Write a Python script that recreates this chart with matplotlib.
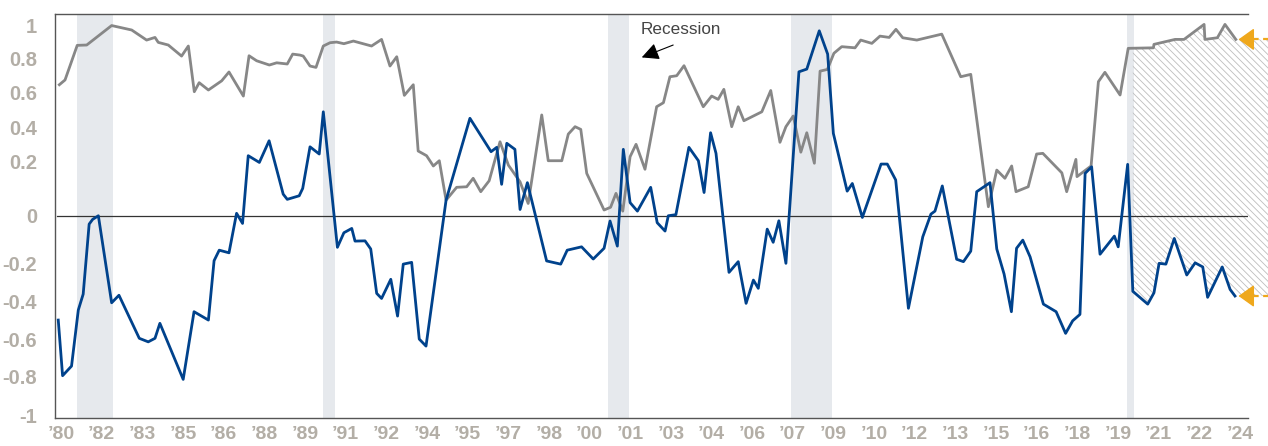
import numpy as np
import matplotlib.pyplot as plt

# gray series (upper line)
gray_year = [1979.94, 1980.15, 1980.60, 1980.95, 1981.87, 1982.61, 1983.16, 1983.47, 1983.59, 1983.96,
             1984.45, 1984.70, 1984.92, 1985.10, 1985.44, 1985.93, 1986.20, 1986.73, 1986.94, 1987.22,
             1987.69, 1987.96, 1988.35, 1988.55, 1988.82, 1988.94, 1989.19, 1989.41, 1989.68, 1989.93,
             1990.17, 1990.44, 1990.79, 1991.46, 1991.83, 1992.14, 1992.39, 1992.67, 1993.00, 1993.18,
             1993.49, 1993.74, 1993.96, 1994.21, 1994.60, 1994.97, 1995.21, 1995.49, 1995.80, 1996.20,
             1996.51, 1996.94, 1997.24, 1997.74, 1997.98, 1998.48, 1998.72, 1998.97, 1999.18, 1999.40,
             2000.04, 2000.28, 2000.48, 2000.73, 2001.00, 2001.22, 2001.55, 2001.98, 2002.23, 2002.47,
             2002.72, 2002.99, 2003.70, 2004.01, 2004.25, 2004.46, 2004.75, 2004.99, 2005.20, 2005.86,
             2006.19, 2006.53, 2006.75, 2007.02, 2007.30, 2007.52, 2007.80, 2008.01, 2008.28, 2008.52,
             2008.81, 2009.30, 2009.51, 2009.92, 2010.22, 2010.56, 2010.81, 2011.06, 2011.58, 2012.50,
             2013.20, 2013.57, 2014.22, 2014.53, 2014.83, 2015.08, 2015.24, 2015.69, 2016.00, 2016.23,
             2016.93, 2017.11, 2017.45, 2017.49, 2018.01, 2018.28, 2018.52, 2019.08, 2019.38, 2020.31,
             2020.33, 2021.11, 2021.44, 2022.18, 2022.21, 2022.67, 2022.95, 2023.35]
gray_val = [0.646, 0.674, 0.880, 0.882, 1.000, 0.973, 0.912, 0.928, 0.898, 0.882,
            0.815, 0.876, 0.605, 0.658, 0.615, 0.669, 0.721, 0.580, 0.817, 0.787,
            0.762, 0.775, 0.768, 0.827, 0.821, 0.815, 0.756, 0.748, 0.876, 0.896,
            0.900, 0.890, 0.906, 0.876, 0.916, 0.756, 0.811, 0.584, 0.646, 0.260,
            0.232, 0.182, 0.202, 0.057, 0.104, 0.106, 0.137, 0.088, 0.128, 0.315,
            0.185, 0.124, 0.045, 0.472, 0.202, 0.202, 0.361, 0.405, 0.389, 0.155,
            0.021, 0.031, 0.082, 0.017, 0.226, 0.300, 0.170, 0.519, 0.542, 0.693,
            0.699, 0.758, 0.519, 0.580, 0.561, 0.619, 0.405, 0.519, 0.439, 0.490,
            0.612, 0.312, 0.405, 0.466, 0.253, 0.369, 0.192, 0.726, 0.736, 0.832,
            0.872, 0.865, 0.912, 0.892, 0.936, 0.928, 0.977, 0.926, 0.912, 0.948,
            0.693, 0.707, 0.033, 0.167, 0.137, 0.182, 0.088, 0.106, 0.242, 0.246,
            0.157, 0.088, 0.210, 0.143, 0.182, 0.664, 0.719, 0.586, 0.862, 0.865,
            0.886, 0.916, 0.916, 1.007, 0.916, 0.926, 1.007, 0.916]

# blue series (lower line)
blue_year = [1979.90, 1980.06, 1980.39, 1980.64, 1980.82, 1981.04, 1981.17, 1981.38, 1981.87, 1982.14,
             1982.89, 1983.22, 1983.47, 1983.65, 1984.51, 1984.91, 1985.44, 1985.65, 1985.84, 1986.20,
             1986.48, 1986.70, 1986.91, 1987.32, 1987.68, 1988.20, 1988.35, 1988.79, 1988.92, 1989.19,
             1989.53, 1989.68, 1990.20, 1990.44, 1990.73, 1990.85, 1991.22, 1991.43, 1991.65, 1991.83,
             1992.17, 1992.42, 1992.63, 1992.94, 1993.22, 1993.47, 1994.21, 1995.09, 1995.87, 1996.08,
             1996.26, 1996.45, 1996.75, 1996.94, 1997.21, 1997.92, 1998.44, 1998.68, 1999.21, 1999.64,
             2000.04, 2000.26, 2000.53, 2000.75, 2001.00, 2001.27, 2001.76, 2002.00, 2002.29, 2002.41,
             2002.69, 2003.17, 2003.52, 2003.73, 2003.97, 2004.17, 2004.65, 2004.99, 2005.28, 2005.55,
             2005.73, 2006.06, 2006.28, 2006.49, 2006.75, 2007.23, 2007.52, 2007.98, 2008.29, 2008.50,
             2009.01, 2009.20, 2009.57, 2010.26, 2010.49, 2010.80, 2011.27, 2011.80, 2012.10, 2012.25,
             2012.52, 2013.05, 2013.30, 2013.57, 2013.79, 2014.28, 2014.53, 2014.80, 2015.07, 2015.26,
             2015.49, 2015.76, 2016.25, 2016.72, 2017.07, 2017.33, 2017.60, 2017.79, 2018.03, 2018.34,
             2018.87, 2019.01, 2019.36, 2019.55, 2020.10, 2020.33, 2020.52, 2020.77, 2021.08, 2021.54,
             2021.85, 2022.13, 2022.31, 2022.85, 2023.14, 2023.32]
blue_val = [-0.500, -0.798, -0.746, -0.447, -0.363, -0.035, -0.015, 0.000, -0.409, -0.369,
            -0.596, -0.615, -0.596, -0.517, -0.817, -0.456, -0.500, -0.188, -0.144, -0.155,
            0.009, -0.032, 0.232, 0.195, 0.321, 0.079, 0.060, 0.073, 0.100, 0.285,
            0.242, 0.490, -0.132, -0.071, -0.053, -0.106, -0.105, -0.139, -0.359, -0.386,
            -0.284, -0.479, -0.203, -0.195, -0.600, -0.638, 0.057, 0.453, 0.256, 0.282,
            0.115, 0.306, 0.270, 0.023, 0.121, -0.189, -0.203, -0.144, -0.130, -0.181,
            -0.136, -0.022, -0.127, 0.270, 0.048, 0.017, 0.104, -0.029, -0.064, 0.000,
            0.004, 0.282, 0.202, 0.085, 0.369, 0.246, -0.247, -0.192, -0.412, -0.288,
            -0.332, -0.056, -0.111, -0.021, -0.199, 0.722, 0.738, 0.968, 0.827, 0.365,
            0.090, 0.118, -0.007, 0.189, 0.189, 0.131, -0.438, -0.088, 0.006, 0.017,
            0.109, -0.182, -0.192, -0.148, 0.088, 0.121, -0.139, -0.256, -0.456, -0.136,
            -0.102, -0.172, -0.416, -0.456, -0.570, -0.504, -0.470, 0.155, 0.179, -0.161,
            -0.085, -0.130, 0.188, -0.348, -0.416, -0.356, -0.199, -0.203, -0.095, -0.261,
            -0.197, -0.218, -0.380, -0.218, -0.338, -0.373]

recessions = [(1980.60, 1981.91), (1989.67, 1990.10), (2000.18, 2000.96),
              (2006.94, 2008.44), (2019.35, 2019.59)]

xtick_labels = ["’80", "’82", "’83", "’85", "’86", "’88", "’89", "’91", "’92", "’94",
                "’95", "’97", "’98", "’00", "’01", "’03", "’04", "’06", "’07", "’09",
                "’10", "’12", "’13", "’15", "’16", "’18", "’19", "’21", "’22", "’24"]
ytick_vals = [-1, -0.8, -0.6, -0.4, -0.2, 0, 0.2, 0.4, 0.6, 0.8, 1]
ytick_labels = ["-1", "-0.8", "-0.6", "-0.4", "-0.2", "0", "0.2", "0.4", "0.6", "0.8", "1"]

# the original axis is unevenly spaced: map values to screen position piecewise
scale_vals = [-1.2, -1, -0.8, -0.6, -0.4, -0.2, 0, 0.2, 0.4, 0.6, 0.8, 1, 1.2]
scale_pos = [-8, 31, 70, 107, 145, 182.5, 230.3, 285, 318.5, 353.5, 387.5, 420.5, 453.5]


def fwd(v):
    return np.interp(v, scale_vals, scale_pos)


def inv(p):
    return np.interp(p, scale_pos, scale_vals)


label_font = ['Liberation Sans Narrow', 'Liberation Sans', 'DejaVu Sans']
label_color = '#b3aea6'
gray_color = '#878787'
blue_color = '#00428c'
orange = '#efa81c'

fig = plt.figure(figsize=(12.68, 4.46), dpi=100)
ax = fig.add_axes([55 / 1268, 28 / 446, 1193 / 1268, 404 / 446])
ax.set_yscale('function', functions=(fwd, inv))
ax.set_xlim(1979.78, 2023.80)
ax.set_ylim(-1.015, 1.07)

for start, end in recessions:
    ax.axvspan(start, end, color='#e6e9ed', lw=0, zorder=0)

# hatched zone after the last recession, running out past the right edge
x0 = blue_year[123]
x_out = 2024.6
g_tail = [(x, v) for x, v in zip(gray_year, gray_val) if x > x0]
b_tail = [(x, v) for x, v in zip(blue_year, blue_val) if x >= x0]
poly_x = [x0] + [p[0] for p in g_tail] + [x_out, x_out] + [p[0] for p in b_tail[::-1]]
poly_y = ([np.interp(x0, gray_year, gray_val)] + [p[1] for p in g_tail]
          + [gray_val[-1], blue_val[-1]] + [p[1] for p in b_tail[::-1]])
plt.rcParams['hatch.linewidth'] = 0.6
ax.fill(poly_x, poly_y, facecolor='none', edgecolor='#bdbdbd', hatch='\\\\\\\\\\',
        lw=0, clip_on=False, zorder=1)

ax.axhline(0, xmin=2 / 1193, color='#333333', lw=0.9, zorder=2)
ax.plot(gray_year, gray_val, color=gray_color, lw=2.0, zorder=3)
ax.plot(blue_year, blue_val, color=blue_color, lw=2.0, zorder=4)

# orange pointers at the latest readings: dashed tail, solid head
for v in (gray_val[-1], blue_val[-1]):
    ax.plot([2023.95, x_out], [v, v], color=orange, lw=1.6, ls=(0, (3, 2)),
            clip_on=False, zorder=5)
    ax.annotate('', xy=(2023.45, v), xytext=(2023.97, v), annotation_clip=False,
                arrowprops=dict(arrowstyle='-|>,head_length=0.7,head_width=0.5',
                                color=orange, lw=1.0, mutation_scale=14,
                                shrinkA=0, shrinkB=0))

ax.text(2001.40, 0.975, 'Recession', fontsize=12.3, color='#444444',
        family=['Liberation Sans', 'DejaVu Sans'], ha='left', va='center')
ax.annotate('', xy=(2001.43, 0.807), xytext=(2002.59, 0.882),
            arrowprops=dict(arrowstyle='-|>,head_length=0.8,head_width=0.4',
                            color='black', lw=0.8, mutation_scale=13,
                            shrinkA=0, shrinkB=0))

ax.set_xticks(1980 + 1.5 * np.arange(len(xtick_labels)))
ax.set_xticklabels(xtick_labels)
ax.set_yticks(ytick_vals)
ax.set_yticklabels(ytick_labels)
ax.minorticks_off()
ax.tick_params(axis='both', length=0, colors=label_color)
ax.tick_params(axis='x', pad=6)
ax.tick_params(axis='y', pad=13)
for lab in ax.get_xticklabels():
    lab.set_family(label_font)
    lab.set_fontweight('bold')
    lab.set_fontsize(14)
for lab in ax.get_yticklabels():
    lab.set_family(label_font)
    lab.set_fontweight('bold')
    lab.set_fontsize(14.5)

ax.spines['right'].set_visible(False)
for side in ('left', 'top', 'bottom'):
    ax.spines[side].set_color('#555555')
    ax.spines[side].set_linewidth(1.0)

fig.savefig('out.png', dpi=100)
